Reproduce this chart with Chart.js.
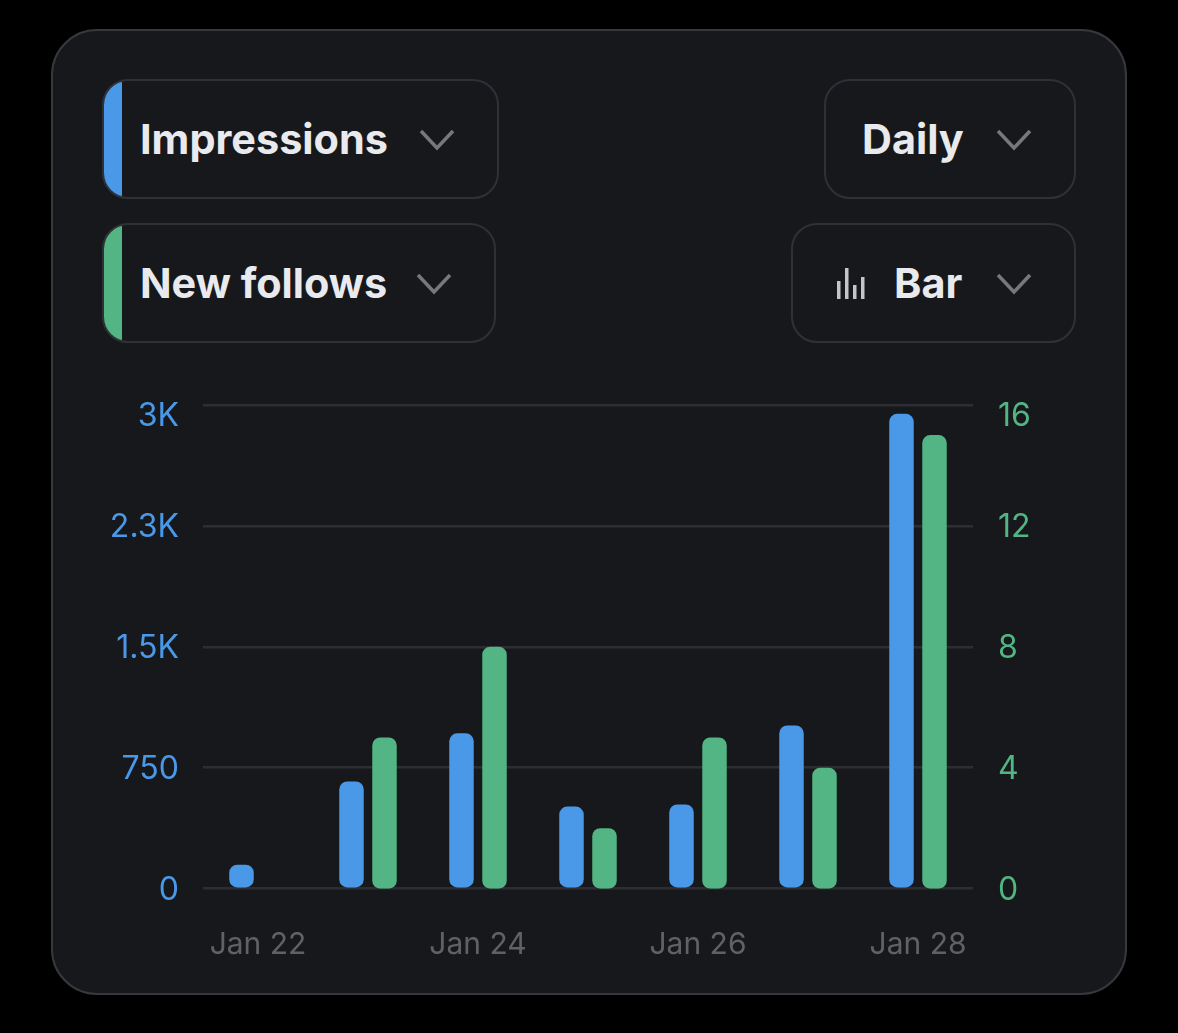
<!DOCTYPE html>
<html>
<head>
<meta charset="utf-8">
<title>Impressions and new follows</title>
<style>
  html, body { margin: 0; padding: 0; background: #000; }
  body { width: 1178px; height: 1033px; position: relative; overflow: hidden; font-family: Inter, sans-serif; }
  #card { position: absolute; left: 51px; top: 29px; width: 1072px; height: 962px; background: #16181c; border: 2px solid #37383d; border-radius: 46px; }
  #myChart { position: absolute; left: 0; top: 0; }
  .pill { position: absolute; height: 115px; border: 2.5px solid #2f3136; border-radius: 26px; overflow: hidden; box-sizing: content-box; }
  .strip { position: absolute; left: 0; top: 0; bottom: 0; width: 18px; }
  .label { position: absolute; font-size: 41.4px; font-weight: 700; line-height: 50px; color: #e9eaed; white-space: nowrap; }
  .chev { position: absolute; }
</style>
</head>
<body>
<div id="card"></div>

<div class="pill" style="left:102px;top:79px;width:393px;height:115.5px"><div class="strip" style="background:#4a99e9"></div></div>
<div class="pill" style="left:102px;top:223px;width:390px;height:115.5px"><div class="strip" style="background:#52b583"></div></div>
<div class="pill" style="left:824px;top:79px;width:248px;height:115.5px"></div>
<div class="pill" style="left:791px;top:223px;width:281px;height:115.5px"></div>

<div class="label" style="left:140px;top:114px">Impressions</div>
<div class="label" style="left:140px;top:258px">New follows</div>
<div class="label" style="left:862px;top:114px">Daily</div>
<div class="label" style="left:894px;top:258px">Bar</div>

<svg class="chev" width="1178" height="1033" style="left:0;top:0">
  <g fill="none" stroke="#77787c" stroke-width="3.5">
    <polyline points="421,131 437,148 453,131"/>
    <polyline points="418,275 434,292 450,275"/>
    <polyline points="998,131 1014,148 1030,131"/>
    <polyline points="998,275 1014,292 1030,275"/>
  </g>
  <g fill="#c4c5c8">
    <rect x="837" y="281" width="3.5" height="18"/>
    <rect x="845" y="268" width="3.5" height="31"/>
    <rect x="853" y="285" width="3.5" height="14"/>
    <rect x="861" y="277" width="3.5" height="22"/>
  </g>
</svg>

<canvas id="myChart" width="1178" height="1033" style="width:1178px;height:1033px"></canvas>

<script src="https://cdn.jsdelivr.net/npm/chart.js@4/dist/chart.umd.min.js"></script>
<script>
var categories = ['Jan 22', 'Jan 23', 'Jan 24', 'Jan 25', 'Jan 26', 'Jan 27', 'Jan 28'];
var impressions = [149, 665, 963, 509, 522, 1012, 2944];
var newFollows = [0, 5, 8, 2, 5, 4, 15];
var impressionTicks = ['0', '750', '1.5K', '2.3K', '3K'];
var followTicks = ['0', '4', '8', '12', '16'];

var blue = '#4a99e9';
var green = '#52b583';

// top label of each y axis sits under its grid line, the spare empty line pushes it down
function yLabel(list, index) {
	return index === list.length - 1 ? ['', list[index]] : list[index];
}

var ctx = document.getElementById('myChart').getContext('2d');
var myChart = new Chart(ctx, {
	type: 'bar',
	data: {
		labels: categories,
		datasets: [{
			label: 'Impressions',
			data: impressions,
			yAxisID: 'y',
			backgroundColor: blue
		}, {
			label: 'New follows',
			data: newFollows,
			yAxisID: 'y1',
			backgroundColor: green
		}]
	},
	options: {
		responsive: false,
		animation: false,
		devicePixelRatio: 1,
		categoryPercentage: 0.6,
		barPercentage: 0.742,
		elements: { bar: { borderRadius: 8, borderSkipped: false } },
		layout: { padding: { top: 404.8, left: 0, right: 0, bottom: 0 } },
		plugins: { legend: { display: false }, tooltip: { enabled: false } },
		scales: {
			x: {
				afterFit: function(s) { s.height = 144.3; },
				grid: { display: false },
				border: { display: false },
				ticks: {
					autoSkip: false,
					maxRotation: 0,
					padding: 30,
					color: '#606165',
					font: { family: 'Inter', size: 30 },
					callback: function(value, index) {
						return index % 2 ? '' : categories[index];
					}
				}
			},
			y: {
				position: 'left',
				min: 0,
				max: 3000,
				afterFit: function(s) { s.width = 203; },
				border: { display: false },
				grid: { color: '#2c2e33', lineWidth: 2.5, drawTicks: false },
				ticks: {
					stepSize: 750,
					padding: 24,
					labelOffset: 2,
					color: blue,
					font: { family: 'Inter', size: 32, lineHeight: '20px' },
					callback: function(value, index) {
						return yLabel(impressionTicks, index);
					}
				}
			},
			y1: {
				position: 'right',
				min: 0,
				max: 16,
				afterFit: function(s) { s.width = 205; },
				border: { display: false },
				grid: { display: false, drawTicks: false },
				ticks: {
					stepSize: 4,
					padding: 25,
					labelOffset: 2,
					color: green,
					font: { family: 'Inter', size: 32, lineHeight: '20px' },
					callback: function(value, index) {
						return yLabel(followTicks, index);
					}
				}
			}
		}
	}
});
</script>
</body>
</html>
